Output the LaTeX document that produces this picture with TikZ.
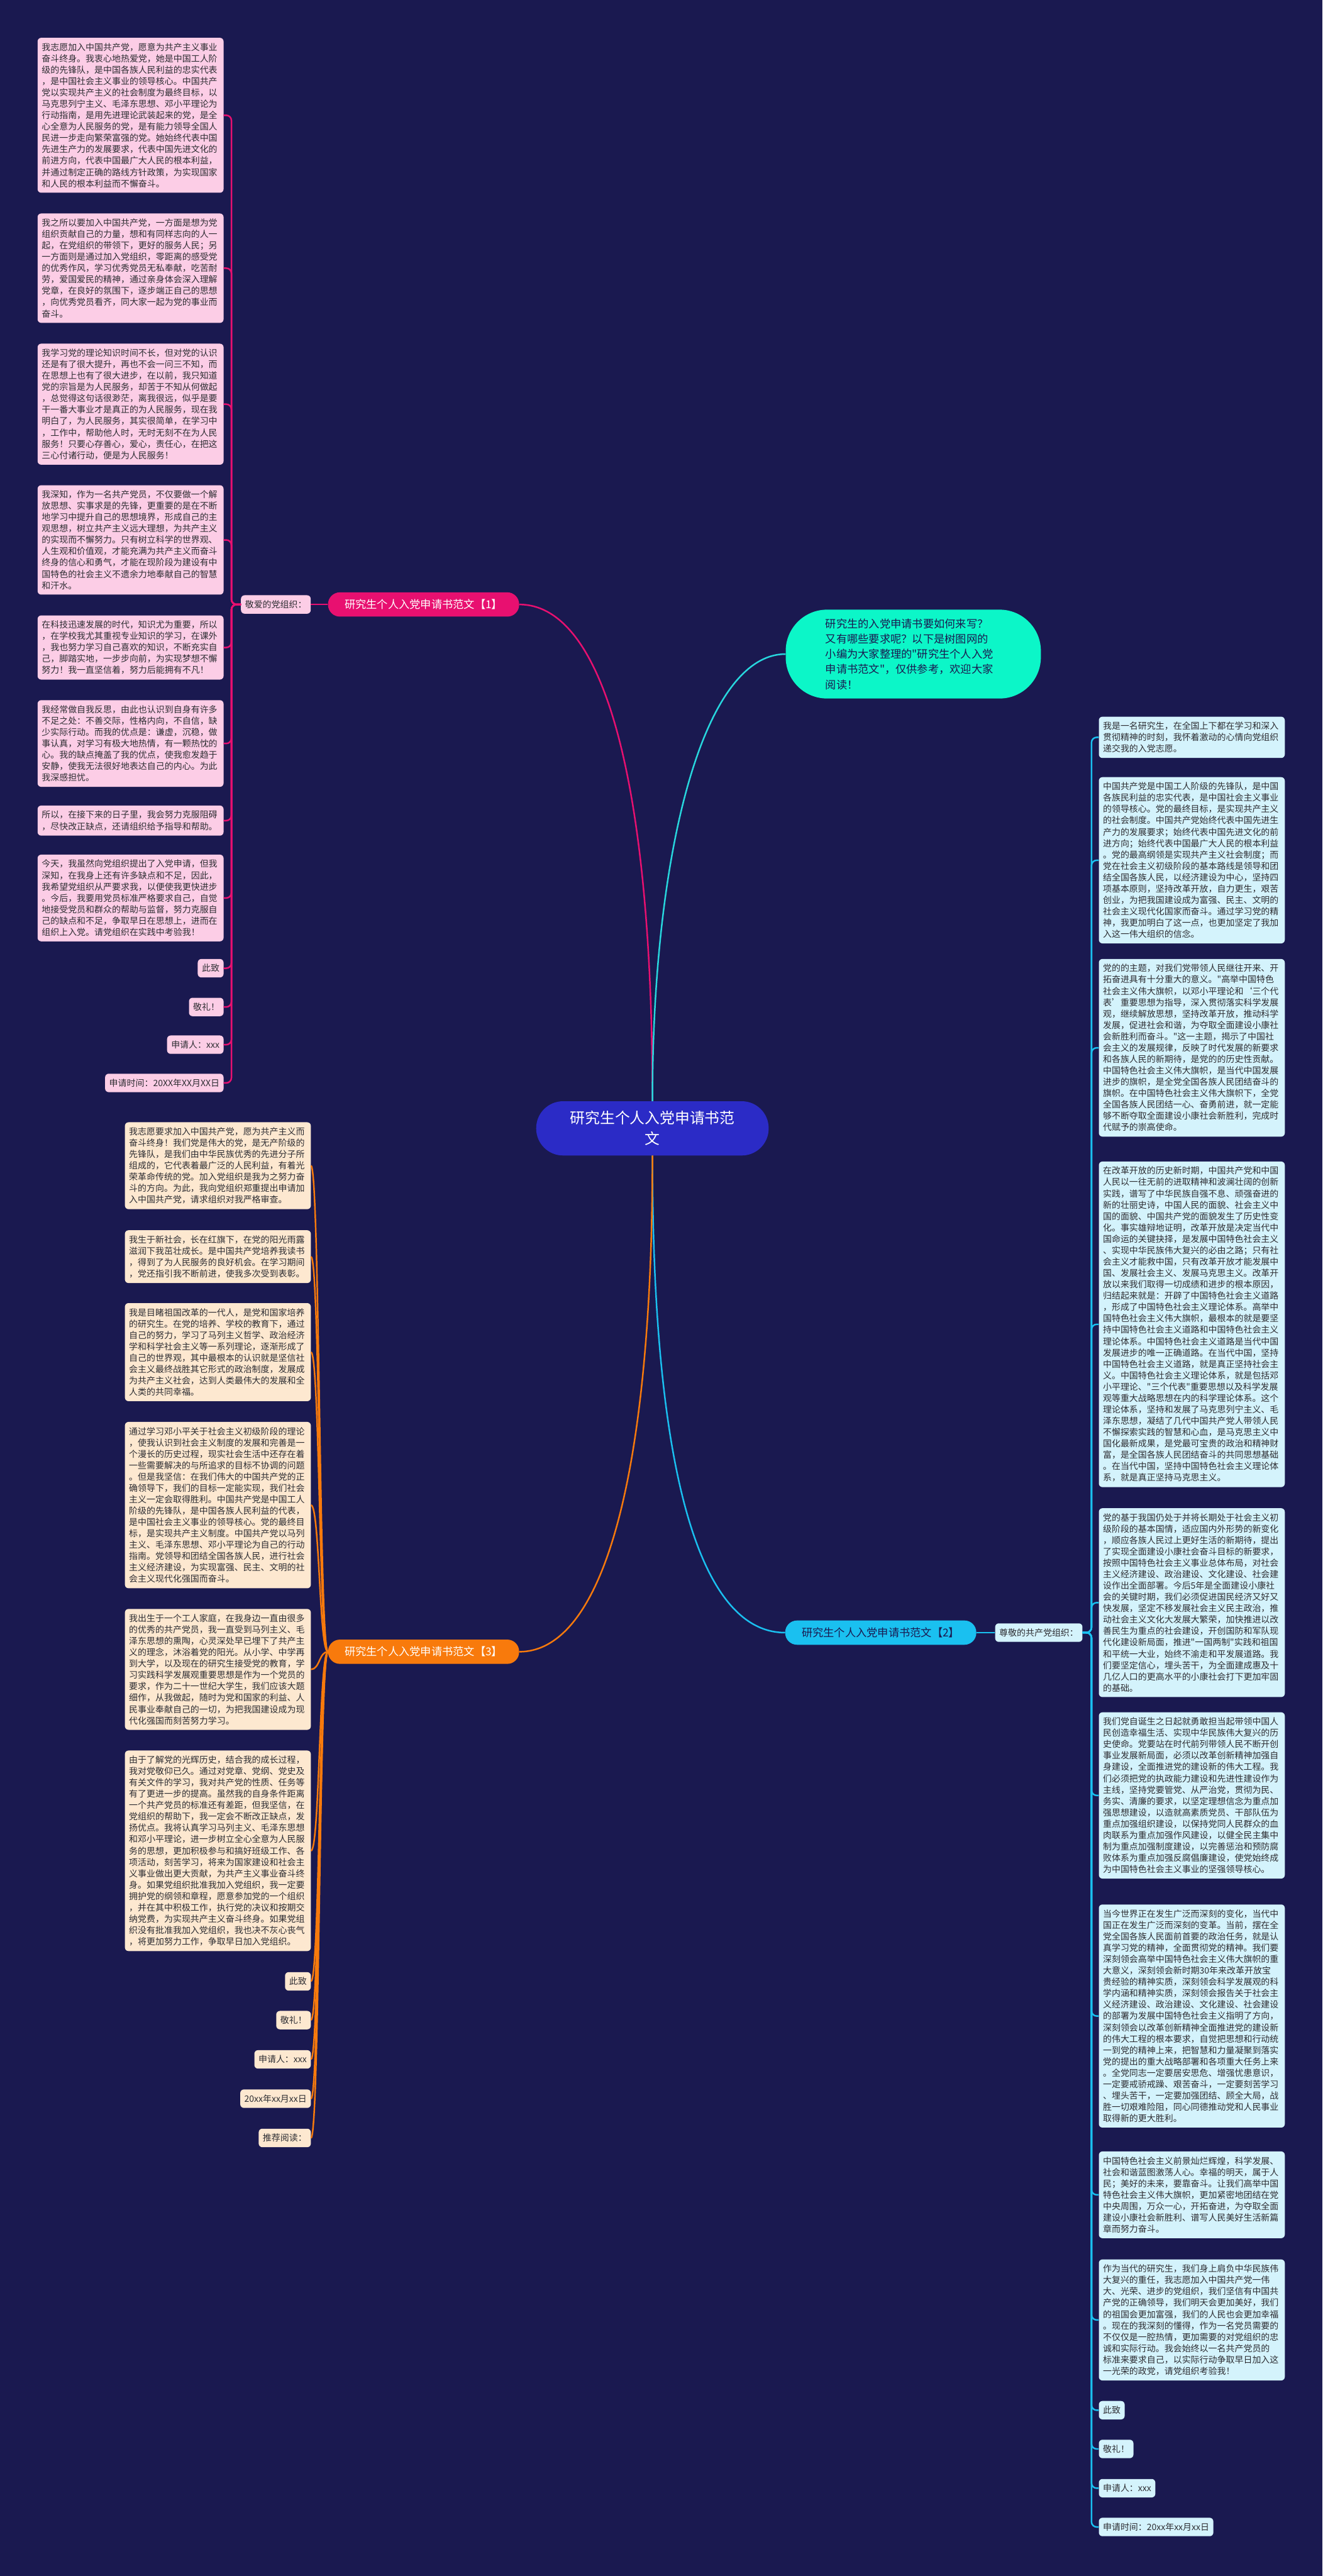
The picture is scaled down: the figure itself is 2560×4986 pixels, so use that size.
\documentclass[tikz,border=0pt]{standalone}
\usepackage{fontspec}
\newfontfamily\cjk{Noto Sans CJK SC}
\usetikzlibrary{positioning}

\definecolor{bgnavy}{RGB}{26,25,80}
\definecolor{rootblue}{RGB}{43,43,198}
\definecolor{introgreen}{RGB}{12,246,200}
\definecolor{aqualine}{RGB}{40,215,222}
\definecolor{magentaA}{RGB}{232,16,112}
\definecolor{orangeC}{RGB}{248,122,12}
\definecolor{cyanB}{RGB}{26,192,240}
\definecolor{pinkbox}{RGB}{252,205,230}
\definecolor{peachbox}{RGB}{253,232,208}
\definecolor{icebox}{RGB}{212,243,252}
\definecolor{inktext}{RGB}{45,45,50}

\newcommand{\cardfont}{\cjk\fontsize{17}{22}\selectfont}

\begin{document}
\begin{tikzpicture}[x=1pt,y=-1pt,
	wire/.style={line width=3pt},
	rootnode/.style={fill=rootblue,text=white,rounded corners=52pt,minimum width=450pt,minimum height=105pt,align=center,font=\cjk\fontsize{29}{40}\selectfont},
	intronode/.style={fill=introgreen,text=bgnavy,rounded corners=80pt,minimum height=172pt,inner xsep=77pt,text width=340pt,align=left,font=\cjk\fontsize{21}{29.5}\selectfont},
	branchnode/.style={rounded corners=23pt,minimum width=370pt,minimum height=47pt,font=\cjk\fontsize{21}{26}\selectfont},
	card/.style={rounded corners=7pt,inner xsep=8pt,inner ysep=10pt,text=inktext,align=left,font=\cardfont},
	longcard/.style={card,text width=344pt}]
	
	% page size of the original map
	\useasboundingbox (0,0) rectangle (2560,4986);
	\fill[bgnavy] (0,0) rectangle (2560,4986);
	
	\node[rootnode] (ctr) at (1263,2184) {研究生个人入党申请书范\\文};
	\node[intronode] (intro) at (1768,1266) {研究生的入党申请书要如何来写？\\
		又有哪些要求呢？以下是树图网的\\
		小编为大家整理的"研究生个人入党\\
		申请书范文"，仅供参考，欢迎大家\\
		阅读！};
	
	\node[branchnode,fill=magentaA,text=white] (b1) at (820,1170) {研究生个人入党申请书范文【1】};
	\node[branchnode,fill=cyanB,text=bgnavy] (b2) at (1705,3160) {研究生个人入党申请书范文【2】};
	\node[branchnode,fill=orangeC,text=white] (b3) at (820,3197) {研究生个人入党申请书范文【3】};
	
	\draw[magentaA,wire] (ctr.north) .. controls +(0,-630) and +(160,0) .. (b1.east);
	\draw[aqualine,wire] (ctr.north) .. controls +(0,-480) and +(-160,0) .. (intro.west);
	\draw[cyanB,wire] (ctr.south) .. controls +(0,630) and +(-160,0) .. (b2.west);
	\draw[orangeC,wire] (ctr.south) .. controls +(0,630) and +(160,0) .. (b3.east);
	
	% branch 1
	\begin{scope}[every node/.style={card,fill=pinkbox}]
		\tikzstyle{pinklong}=[longcard,anchor=north east]
		\tikzstyle{pinkshort}=[anchor=north east]
		\node (lab1) at (534,1170) {敬爱的党组织：};
		\node[pinklong] (p1) at (433,73) {我志愿加入中国共产党，愿意为共产主义事业\\
			奋斗终身。我衷心地热爱党，她是中国工人阶\\
			级的先锋队，是中国各族人民利益的忠实代表\\
			，是中国社会主义事业的领导核心。中国共产\\
			党以实现共产主义的社会制度为最终目标，以\\
			马克思列宁主义、毛泽东思想、邓小平理论为\\
			行动指南，是用先进理论武装起来的党，是全\\
			心全意为人民服务的党，是有能力领导全国人\\
			民进一步走向繁荣富强的党。她始终代表中国\\
			先进生产力的发展要求，代表中国先进文化的\\
			前进方向，代表中国最广大人民的根本利益，\\
			并通过制定正确的路线方针政策，为实现国家\\
			和人民的根本利益而不懈奋斗。};
		\node[pinklong] (p2) at (433,413) {我之所以要加入中国共产党，一方面是想为党\\
			组织贡献自己的力量，想和有同样志向的人一\\
			起，在党组织的带领下，更好的服务人民；另\\
			一方面则是通过加入党组织，零距离的感受党\\
			的优秀作风，学习优秀党员无私奉献，吃苦耐\\
			劳，爱国爱民的精神，通过亲身体会深入理解\\
			党章，在良好的氛围下，逐步端正自己的思想\\
			，向优秀党员看齐，同大家一起为党的事业而\\
			奋斗。};
		\node[pinklong] (p3) at (433,665) {我学习党的理论知识时间不长，但对党的认识\\
			还是有了很大提升，再也不会一问三不知，而\\
			在思想上也有了很大进步，在以前，我只知道\\
			党的宗旨是为人民服务，却苦于不知从何做起\\
			，总觉得这句话很渺茫，离我很远，似乎是要\\
			干一番大事业才是真正的为人民服务，现在我\\
			明白了，为人民服务，其实很简单，在学习中\\
			，工作中，帮助他人时，无时无刻不在为人民\\
			服务！只要心存善心，爱心，责任心，在把这\\
			三心付诸行动，便是为人民服务！};
		\node[pinklong] (p4) at (433,939) {我深知，作为一名共产党员，不仅要做一个解\\
			放思想、实事求是的先锋，更重要的是在不断\\
			地学习中提升自己的思想境界，形成自己的主\\
			观思想，树立共产主义远大理想，为共产主义\\
			的实现而不懈努力。只有树立科学的世界观、\\
			人生观和价值观，才能充满为共产主义而奋斗\\
			终身的信心和勇气，才能在现阶段为建设有中\\
			国特色的社会主义不遗余力地奉献自己的智慧\\
			和汗水。};
		\node[pinklong] (p5) at (433,1191) {在科技迅速发展的时代，知识尤为重要，所以\\
			，在学校我尤其重视专业知识的学习，在课外\\
			，我也努力学习自己喜欢的知识，不断充实自\\
			己，脚踏实地，一步步向前，为实现梦想不懈\\
			努力！我一直坚信着，努力后能拥有不凡！};
		\node[pinklong] (p6) at (433,1355) {我经常做自我反思，由此也认识到自身有许多\\
			不足之处：不善交际，性格内向，不自信，缺\\
			少实际行动。而我的优点是：谦虚，沉稳，做\\
			事认真，对学习有极大地热情，有一颗热忱的\\
			心。我的缺点掩盖了我的优点，使我愈发趋于\\
			安静，使我无法很好地表达自己的内心。为此\\
			我深感担忧。};
		\node[pinklong] (p7) at (433,1559) {所以，在接下来的日子里，我会努力克服阻碍\\
			，尽快改正缺点，还请组织给予指导和帮助。};
		\node[pinklong] (p8) at (433,1654) {今天，我虽然向党组织提出了入党申请，但我\\
			深知，在我身上还有许多缺点和不足，因此，\\
			我希望党组织从严要求我，以便使我更快进步\\
			。今后，我要用党员标准严格要求自己，自觉\\
			地接受党员和群众的帮助与监督，努力克服自\\
			己的缺点和不足，争取早日在思想上，进而在\\
			组织上入党。请党组织在实践中考验我！};
		\node[pinkshort] (p9) at (433,1856) {此致};
		\node[pinkshort] (p10) at (433,1931) {敬礼！};
		\node[pinkshort] (p11) at (433,2004) {申请人：xxx};
		\node[pinkshort] (p12) at (433,2078) {申请时间：20XX年XX月XX日};
	\end{scope}
	
	\coordinate (t1) at (448,1170);
	\draw[magentaA,wire] (b1.west) -- (lab1.east);
	\draw[magentaA,wire,rounded corners=10pt] (lab1.west) -- (t1) -- (t1 |- p1.east) -- (p1.east);
	\draw[magentaA,wire,rounded corners=10pt] (lab1.west) -- (t1) -- (t1 |- p2.east) -- (p2.east);
	\draw[magentaA,wire,rounded corners=10pt] (lab1.west) -- (t1) -- (t1 |- p3.east) -- (p3.east);
	\draw[magentaA,wire,rounded corners=10pt] (lab1.west) -- (t1) -- (t1 |- p4.east) -- (p4.east);
	\draw[magentaA,wire,rounded corners=10pt] (lab1.west) -- (t1) -- (t1 |- p5.east) -- (p5.east);
	\draw[magentaA,wire,rounded corners=10pt] (lab1.west) -- (t1) -- (t1 |- p6.east) -- (p6.east);
	\draw[magentaA,wire,rounded corners=10pt] (lab1.west) -- (t1) -- (t1 |- p7.east) -- (p7.east);
	\draw[magentaA,wire,rounded corners=10pt] (lab1.west) -- (t1) -- (t1 |- p8.east) -- (p8.east);
	\draw[magentaA,wire,rounded corners=10pt] (lab1.west) -- (t1) -- (t1 |- p9.east) -- (p9.east);
	\draw[magentaA,wire,rounded corners=10pt] (lab1.west) -- (t1) -- (t1 |- p10.east) -- (p10.east);
	\draw[magentaA,wire,rounded corners=10pt] (lab1.west) -- (t1) -- (t1 |- p11.east) -- (p11.east);
	\draw[magentaA,wire,rounded corners=10pt] (lab1.west) -- (t1) -- (t1 |- p12.east) -- (p12.east);
	
	% branch 3
	\begin{scope}[every node/.style={card,fill=peachbox}]
		\tikzstyle{peachlong}=[longcard,anchor=north east]
		\tikzstyle{peachshort}=[anchor=north east]
		\node[peachlong] (o1) at (602,2172) {我志愿要求加入中国共产党，愿为共产主义而\\
			奋斗终身！我们党是伟大的党，是无产阶级的\\
			先锋队，是我们由中华民族优秀的先进分子所\\
			组成的，它代表着最广泛的人民利益，有着光\\
			荣革命传统的党。加入党组织是我为之努力奋\\
			斗的方向。为此，我向党组织郑重提出申请加\\
			入中国共产党，请求组织对我严格审查。};
		\node[peachlong] (o2) at (602,2381) {我生于新社会，长在红旗下，在党的阳光雨露\\
			滋润下我茁壮成长。是中国共产党培养我读书\\
			，得到了为人民服务的良好机会。在学习期间\\
			，党还指引我不断前进，使我多次受到表彰。};
		\node[peachlong] (o3) at (602,2522) {我是目睹祖国改革的一代人，是党和国家培养\\
			的研究生。在党的培养、学校的教育下，通过\\
			自己的努力，学习了马列主义哲学、政治经济\\
			学和科学社会主义等一系列理论，逐渐形成了\\
			自己的世界观，其中最根本的认识就是坚信社\\
			会主义最终战胜其它形式的政治制度，发展成\\
			为共产主义社会，达到人类最伟大的发展和全\\
			人类的共同幸福。};
		\node[peachlong] (o4) at (602,2752) {通过学习邓小平关于社会主义初级阶段的理论\\
			，使我认识到社会主义制度的发展和完善是一\\
			个漫长的历史过程，现实社会生活中还存在着\\
			一些需要解决的与所追求的目标不协调的问题\\
			。但是我坚信：在我们伟大的中国共产党的正\\
			确领导下，我们的目标一定能实现，我们社会\\
			主义一定会取得胜利。中国共产党是中国工人\\
			阶级的先锋队，是中国各族人民利益的代表，\\
			是中国社会主义事业的领导核心。党的最终目\\
			标，是实现共产主义制度。中国共产党以马列\\
			主义、毛泽东思想、邓小平理论为自己的行动\\
			指南。党领导和团结全国各族人民，进行社会\\
			主义经济建设，为实现富强、民主、文明的社\\
			会主义现代化强国而奋斗。};
		\node[peachlong] (o5) at (602,3114) {我出生于一个工人家庭，在我身边一直由很多\\
			的优秀的共产党员，我一直受到马列主义、毛\\
			泽东思想的熏陶，心灵深处早已埋下了共产主\\
			义的理念，沐浴着党的阳光。从小学、中学再\\
			到大学，以及现在的研究生接受党的教育，学\\
			习实践科学发展观重要思想是作为一个党员的\\
			要求，作为二十一世纪大学生，我们应该大题\\
			细作，从我做起，随时为党和国家的利益、人\\
			民事业奉献自己的一切，为把我国建设成为现\\
			代化强国而刻苦努力学习。};
		\node[peachlong] (o6) at (602,3388) {由于了解党的光辉历史，结合我的成长过程，\\
			我对党敬仰已久。通过对党章、党纲、党史及\\
			有关文件的学习，我对共产党的性质、任务等\\
			有了更进一步的提高。虽然我的自身条件距离\\
			一个共产党员的标准还有差距，但我坚信，在\\
			党组织的帮助下，我一定会不断改正缺点，发\\
			扬优点。我将认真学习马列主义、毛泽东思想\\
			和邓小平理论，进一步树立全心全意为人民服\\
			务的思想，更加积极参与和搞好班级工作、各\\
			项活动，刻苦学习，将来为国家建设和社会主\\
			义事业做出更大贡献，为共产主义事业奋斗终\\
			身。如果党组织批准我加入党组织，我一定要\\
			拥护党的纲领和章程，愿意参加党的一个组织\\
			，并在其中积极工作，执行党的决议和按期交\\
			纳党费，为实现共产主义奋斗终身。如果党组\\
			织没有批准我加入党组织，我也决不灰心丧气\\
			，将更加努力工作，争取早日加入党组织。};
		\node[peachshort] (o7) at (602,3817) {此致};
		\node[peachshort] (o8) at (602,3892) {敬礼！};
		\node[peachshort] (o9) at (602,3968) {申请人：xxx};
		\node[peachshort] (o10) at (602,4044) {20xx年xx月xx日};
		\node[peachshort] (o11) at (602,4120) {推荐阅读：};
	\end{scope}
	
	\draw[orangeC,wire] (b3.west) .. controls +(-17,0) and +(17,0) .. (o1.east);
	\draw[orangeC,wire] (b3.west) .. controls +(-17,0) and +(17,0) .. (o2.east);
	\draw[orangeC,wire] (b3.west) .. controls +(-17,0) and +(17,0) .. (o3.east);
	\draw[orangeC,wire] (b3.west) .. controls +(-17,0) and +(17,0) .. (o4.east);
	\draw[orangeC,wire] (b3.west) .. controls +(-17,0) and +(17,0) .. (o5.east);
	\draw[orangeC,wire] (b3.west) .. controls +(-17,0) and +(17,0) .. (o6.east);
	\draw[orangeC,wire] (b3.west) .. controls +(-17,0) and +(17,0) .. (o7.east);
	\draw[orangeC,wire] (b3.west) .. controls +(-17,0) and +(17,0) .. (o8.east);
	\draw[orangeC,wire] (b3.west) .. controls +(-17,0) and +(17,0) .. (o9.east);
	\draw[orangeC,wire] (b3.west) .. controls +(-17,0) and +(17,0) .. (o10.east);
	\draw[orangeC,wire] (b3.west) .. controls +(-17,0) and +(17,0) .. (o11.east);
	
	% branch 2
	\begin{scope}[every node/.style={card,fill=icebox}]
		\tikzstyle{icelong}=[longcard,anchor=north west]
		\tikzstyle{iceshort}=[anchor=north west]
		\node (lab2) at (2011,3160) {尊敬的共产党组织：};
		\node[icelong] (c1) at (2127,1387) {我是一名研究生，在全国上下都在学习和深入\\
			贯彻精神的时刻，我怀着激动的心情向党组织\\
			递交我的入党志愿。};
		\node[icelong] (c2) at (2127,1504) {中国共产党是中国工人阶级的先锋队，是中国\\
			各族民利益的忠实代表，是中国社会主义事业\\
			的领导核心。党的最终目标，是实现共产主义\\
			的社会制度。中国共产党始终代表中国先进生\\
			产力的发展要求；始终代表中国先进文化的前\\
			进方向；始终代表中国最广大人民的根本利益\\
			。党的最高纲领是实现共产主义社会制度；而\\
			党在社会主义初级阶段的基本路线是领导和团\\
			结全国各族人民，以经济建设为中心，坚持四\\
			项基本原则，坚持改革开放，自力更生，艰苦\\
			创业，为把我国建设成为富强、民主、文明的\\
			社会主义现代化国家而奋斗。通过学习党的精\\
			神，我更加明白了这一点，也更加坚定了我加\\
			入这一伟大组织的信念。};
		\node[icelong] (c3) at (2127,1856) {党的的主题，对我们党带领人民继往开来、开\\
			拓奋进具有十分重大的意义。"高举中国特色\\
			社会主义伟大旗帜，以邓小平理论和‘三个代\\
			表’重要思想为指导，深入贯彻落实科学发展\\
			观，继续解放思想，坚持改革开放，推动科学\\
			发展，促进社会和谐，为夺取全面建设小康社\\
			会新胜利而奋斗。"这一主题，揭示了中国社\\
			会主义的发展规律，反映了时代发展的新要求\\
			和各族人民的新期待，是党的的历史性贡献。\\
			中国特色社会主义伟大旗帜，是当代中国发展\\
			进步的旗帜，是全党全国各族人民团结奋斗的\\
			旗帜。在中国特色社会主义伟大旗帜下，全党\\
			全国各族人民团结一心、奋勇前进，就一定能\\
			够不断夺取全面建设小康社会新胜利，完成时\\
			代赋予的崇高使命。};
		\node[icelong] (c4) at (2127,2248) {在改革开放的历史新时期，中国共产党和中国\\
			人民以一往无前的进取精神和波澜壮阔的创新\\
			实践，谱写了中华民族自强不息、顽强奋进的\\
			新的壮丽史诗，中国人民的面貌、社会主义中\\
			国的面貌、中国共产党的面貌发生了历史性变\\
			化。事实雄辩地证明，改革开放是决定当代中\\
			国命运的关键抉择，是发展中国特色社会主义\\
			、实现中华民族伟大复兴的必由之路；只有社\\
			会主义才能救中国，只有改革开放才能发展中\\
			国、发展社会主义、发展马克思主义。改革开\\
			放以来我们取得一切成绩和进步的根本原因，\\
			归结起来就是：开辟了中国特色社会主义道路\\
			，形成了中国特色社会主义理论体系。高举中\\
			国特色社会主义伟大旗帜，最根本的就是要坚\\
			持中国特色社会主义道路和中国特色社会主义\\
			理论体系。中国特色社会主义道路是当代中国\\
			发展进步的唯一正确道路。在当代中国，坚持\\
			中国特色社会主义道路，就是真正坚持社会主\\
			义。中国特色社会主义理论体系，就是包括邓\\
			小平理论、"三个代表"重要思想以及科学发展\\
			观等重大战略思想在内的科学理论体系。这个\\
			理论体系，坚持和发展了马克思列宁主义、毛\\
			泽东思想，凝结了几代中国共产党人带领人民\\
			不懈探索实践的智慧和心血，是马克思主义中\\
			国化最新成果，是党最可宝贵的政治和精神财\\
			富，是全国各族人民团结奋斗的共同思想基础\\
			。在当代中国，坚持中国特色社会主义理论体\\
			系，就是真正坚持马克思主义。};
		\node[icelong] (c5) at (2127,2919) {党的基于我国仍处于并将长期处于社会主义初\\
			级阶段的基本国情，适应国内外形势的新变化\\
			，顺应各族人民过上更好生活的新期待，提出\\
			了实现全面建设小康社会奋斗目标的新要求，\\
			按照中国特色社会主义事业总体布局，对社会\\
			主义经济建设、政治建设、文化建设、社会建\\
			设作出全面部署。今后5年是全面建设小康社\\
			会的关键时期，我们必须促进国民经济又好又\\
			快发展，坚定不移发展社会主义民主政治，推\\
			动社会主义文化大发展大繁荣，加快推进以改\\
			善民生为重点的社会建设，开创国防和军队现\\
			代化建设新局面，推进"一国两制"实践和祖国\\
			和平统一大业，始终不渝走和平发展道路。我\\
			们要坚定信心，埋头苦干，为全面建成惠及十\\
			几亿人口的更高水平的小康社会打下更加牢固\\
			的基础。};
		\node[icelong] (c6) at (2127,3314) {我们党自诞生之日起就勇敢担当起带领中国人\\
			民创造幸福生活、实现中华民族伟大复兴的历\\
			史使命。党要站在时代前列带领人民不断开创\\
			事业发展新局面，必须以改革创新精神加强自\\
			身建设，全面推进党的建设新的伟大工程。我\\
			们必须把党的执政能力建设和先进性建设作为\\
			主线，坚持党要管党、从严治党，贯彻为民、\\
			务实、清廉的要求，以坚定理想信念为重点加\\
			强思想建设，以造就高素质党员、干部队伍为\\
			重点加强组织建设，以保持党同人民群众的血\\
			肉联系为重点加强作风建设，以健全民主集中\\
			制为重点加强制度建设，以完善惩治和预防腐\\
			败体系为重点加强反腐倡廉建设，使党始终成\\
			为中国特色社会主义事业的坚强领导核心。};
		\node[icelong] (c7) at (2127,3686) {当今世界正在发生广泛而深刻的变化，当代中\\
			国正在发生广泛而深刻的变革。当前，摆在全\\
			党全国各族人民面前首要的政治任务，就是认\\
			真学习党的精神，全面贯彻党的精神。我们要\\
			深刻领会高举中国特色社会主义伟大旗帜的重\\
			大意义，深刻领会新时期30年来改革开放宝\\
			贵经验的精神实质，深刻领会科学发展观的科\\
			学内涵和精神实质，深刻领会报告关于社会主\\
			义经济建设、政治建设、文化建设、社会建设\\
			的部署为发展中国特色社会主义指明了方向，\\
			深刻领会以改革创新精神全面推进党的建设新\\
			的伟大工程的根本要求，自觉把思想和行动统\\
			一到党的精神上来，把智慧和力量凝聚到落实\\
			党的提出的重大战略部署和各项重大任务上来\\
			。全党同志一定要居安思危、增强忧患意识，\\
			一定要戒骄戒躁、艰苦奋斗，一定要刻苦学习\\
			、埋头苦干，一定要加强团结、顾全大局，战\\
			胜一切艰难险阻，同心同德推动党和人民事业\\
			取得新的更大胜利。};
		\node[icelong] (c8) at (2127,4164) {中国特色社会主义前景灿烂辉煌，科学发展、\\
			社会和谐蓝图激荡人心。幸福的明天，属于人\\
			民；美好的未来，要靠奋斗。让我们高举中国\\
			特色社会主义伟大旗帜，更加紧密地团结在党\\
			中央周围，万众一心，开拓奋进，为夺取全面\\
			建设小康社会新胜利、谱写人民美好生活新篇\\
			章而努力奋斗。};
		\node[icelong] (c9) at (2127,4373) {作为当代的研究生，我们身上肩负中华民族伟\\
			大复兴的重任，我志愿加入中国共产党一伟\\
			大、光荣、进步的党组织，我们坚信有中国共\\
			产党的正确领导，我们明天会更加美好，我们\\
			的祖国会更加富强，我们的人民也会更加幸福\\
			。现在的我深刻的懂得，作为一名党员需要的\\
			不仅仅是一腔热情，更加需要的对党组织的忠\\
			诚和实际行动。我会始终以一名共产党员的\\
			标准来要求自己，以实际行动争取早日加入这\\
			一光荣的政党，请党组织考验我！};
		\node[iceshort] (c10) at (2127,4647) {此致};
		\node[iceshort] (c11) at (2127,4722) {敬礼！};
		\node[iceshort] (c12) at (2127,4798) {申请人：xxx};
		\node[iceshort] (c13) at (2127,4873) {申请时间：20xx年xx月xx日};
	\end{scope}
	
	\coordinate (t2) at (2113,3160);
	\draw[cyanB,wire] (b2.east) -- (lab2.west);
	\draw[cyanB,wire,rounded corners=10pt] (lab2.east) -- (t2) -- (t2 |- c1.west) -- (c1.west);
	\draw[cyanB,wire,rounded corners=10pt] (lab2.east) -- (t2) -- (t2 |- c2.west) -- (c2.west);
	\draw[cyanB,wire,rounded corners=10pt] (lab2.east) -- (t2) -- (t2 |- c3.west) -- (c3.west);
	\draw[cyanB,wire,rounded corners=10pt] (lab2.east) -- (t2) -- (t2 |- c4.west) -- (c4.west);
	\draw[cyanB,wire,rounded corners=10pt] (lab2.east) -- (t2) -- (t2 |- c5.west) -- (c5.west);
	\draw[cyanB,wire,rounded corners=10pt] (lab2.east) -- (t2) -- (t2 |- c6.west) -- (c6.west);
	\draw[cyanB,wire,rounded corners=10pt] (lab2.east) -- (t2) -- (t2 |- c7.west) -- (c7.west);
	\draw[cyanB,wire,rounded corners=10pt] (lab2.east) -- (t2) -- (t2 |- c8.west) -- (c8.west);
	\draw[cyanB,wire,rounded corners=10pt] (lab2.east) -- (t2) -- (t2 |- c9.west) -- (c9.west);
	\draw[cyanB,wire,rounded corners=10pt] (lab2.east) -- (t2) -- (t2 |- c10.west) -- (c10.west);
	\draw[cyanB,wire,rounded corners=10pt] (lab2.east) -- (t2) -- (t2 |- c11.west) -- (c11.west);
	\draw[cyanB,wire,rounded corners=10pt] (lab2.east) -- (t2) -- (t2 |- c12.west) -- (c12.west);
	\draw[cyanB,wire,rounded corners=10pt] (lab2.east) -- (t2) -- (t2 |- c13.west) -- (c13.west);
	
\end{tikzpicture}
\end{document}
